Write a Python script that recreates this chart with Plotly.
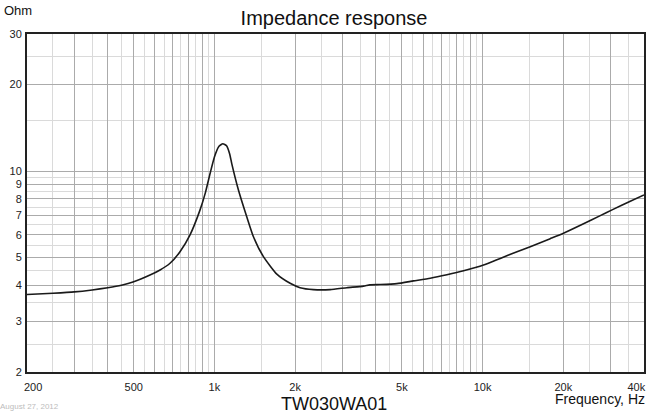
import plotly.graph_objects as go

# Impedance response data
freq_hz = [200, 250, 300, 350, 400, 450, 500, 575, 627, 683, 744, 811, 884, 925, 964,
           1000, 1040, 1075, 1110, 1140, 1161, 1229, 1320, 1398, 1523, 1709, 1916,
           2086, 2340, 2702, 3120, 3596, 3800, 4150, 4792, 5525, 6380, 7364, 8496,
           10080, 11640, 13440, 15060, 17880, 20030, 23800, 27480, 30400, 35560, 40000]
impedance_ohm = [3.72, 3.76, 3.80, 3.86, 3.93, 4.01, 4.12, 4.35, 4.53, 4.78, 5.24, 6.0,
                 7.33, 8.4, 9.83, 11.2, 12.2, 12.45, 12.25, 11.47, 10.6, 8.6, 6.94,
                 5.91, 5.04, 4.38, 4.07, 3.93, 3.87, 3.87, 3.93, 3.98, 4.02, 4.03,
                 4.06, 4.15, 4.24, 4.36, 4.5, 4.71, 4.97, 5.24, 5.46, 5.82, 6.08, 6.56,
                 7.0, 7.33, 7.85, 8.26]

# Axis ticks / grid
x_major = [200, 300, 400, 500, 600, 700, 800, 900, 1000, 2000, 3000, 4000, 5000,
           6000, 7000, 8000, 9000, 10000, 20000, 30000, 40000]
x_labels = {200: "\u00a0\u00a0\u00a0\u00a0200", 500: "500", 1000: "1k", 2000: "2k",
            5000: "5k", 10000: "10k", 20000: "20k",
            40000: "40k\u00a0\u00a0\u00a0\u00a0\u00a0"}
x_minor = [250, 350, 450, 550, 650, 750, 850, 950, 1500, 2500, 3500, 4500, 5500,
           6500, 7500, 8500, 9500, 15000, 25000, 35000]
y_major = [2, 3, 4, 5, 6, 7, 8, 9, 10, 20, 30]
y_labels = ["2", "3", "4", "5", "6", "7", "8", "9", "10", "20", "30"]
y_minor = [2.5, 3.5, 4.5, 5.5, 6.5, 7.5, 8.5, 9.5, 15, 25]

DARK = "#ababab"
LIGHT = "#dadada"
FONT = "Liberation Sans, Arial, sans-serif"

fig = go.Figure()
fig.add_trace(go.Scatter(
    x=freq_hz, y=impedance_ohm, mode="lines",
    line=dict(color="#1a1a1a", width=1.6, shape="spline", smoothing=0.5),
    hoverinfo="skip", showlegend=False))

fig.update_xaxes(
    type="log", range=[2.30103, 4.60206], automargin=False,
    tickmode="array", tickvals=x_major,
    ticktext=[x_labels.get(v, "") for v in x_major],
    showgrid=True, gridcolor=DARK, gridwidth=1,
    minor=dict(tickmode="array", tickvals=x_minor, showgrid=True,
               gridcolor=LIGHT, gridwidth=1, ticks=""),
    ticks="", showline=True, mirror=True, linecolor="#222", linewidth=2,
    zeroline=False, tickfont=dict(family=FONT, size=11, color="#222"),
    ticklabelstandoff=4, ticklabeloverflow="allow")
fig.update_yaxes(
    type="log", range=[0.30103, 1.4771213], automargin=False,
    tickmode="array", tickvals=y_major, ticktext=y_labels,
    showgrid=True, gridcolor=DARK, gridwidth=1,
    minor=dict(tickmode="array", tickvals=y_minor, showgrid=True,
               gridcolor=LIGHT, gridwidth=1, ticks=""),
    ticks="", showline=True, mirror=True, linecolor="#222", linewidth=2,
    zeroline=False, tickfont=dict(family=FONT, size=11, color="#222"),
    ticklabelstandoff=1, ticklabeloverflow="allow")

fig.update_layout(
    width=647, height=417,
    margin=dict(l=27, r=3, t=34, b=45, autoexpand=False),
    paper_bgcolor="white", plot_bgcolor="white",
    title=dict(text="Impedance response", x=334 / 647, xanchor="center",
               y=1 - 18 / 417, yanchor="middle",
               font=dict(family=FONT, size=20, color="#111")),
    annotations=[
        dict(text="Ohm", xref="paper", yref="paper", x=-27 / 617, y=1 + 24 / 338,
             xanchor="left", yanchor="middle", showarrow=False, xshift=2,
             font=dict(family=FONT, size=13, color="#111")),
        dict(text="Frequency, Hz", xref="paper", yref="paper", x=1, y=-27 / 338,
             xanchor="right", yanchor="middle", showarrow=False, xshift=3,
             font=dict(family=FONT, size=14, color="#111")),
        dict(text="TW030WA01", xref="paper", yref="paper", x=307 / 617, y=-32 / 338,
             xanchor="center", yanchor="middle", showarrow=False,
             font=dict(family=FONT, size=18, color="#111")),
        dict(text="August 27, 2012", xref="paper", yref="paper", x=-27 / 617, y=-34 / 338,
             xanchor="left", yanchor="middle", showarrow=False, xshift=-2,
             font=dict(family=FONT, size=8, color="#bdbdbd")),
    ],
)

fig.write_html("out.html", config={"displayModeBar": False},
               post_script="document.body.style.margin='0';document.body.style.overflow='hidden';")
